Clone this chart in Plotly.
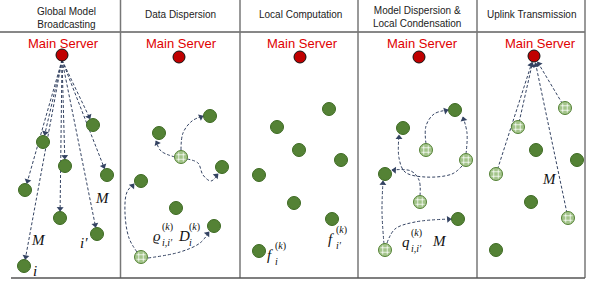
import math
import plotly.graph_objects as go

W, H = 596, 286

# ---------------- data ----------------
panel_titles = ["Global Model<br>Broadcasting", "Data Dispersion", "Local Computation",
                "Model Dispersion &<br>Local Condensation", "Uplink Transmission"]
title_x = [66, 180, 300, 417, 531]
title_y = [18, 14, 14, 17, 14]

server_x = [62, 179, 300, 419, 534]
server_y = [55, 57, 57, 57, 56]
server_label = "Main Server"
server_label_x = [63, 181, 302, 422, 540]
server_label_y = [43, 43, 43, 43, 43]

# Panel 1: global model broadcasting
p1_node_x = [93, 43, 65, 107, 25, 60, 97, 24]
p1_node_y = [125, 142, 166, 175, 190, 218, 234, 266]

# Panel 2: data dispersion
p2_node_x = [210, 159, 222, 141, 176, 214]
p2_node_y = [116, 133, 167, 181, 208, 226]
p2_hatch_x = [181, 141]
p2_hatch_y = [157, 257]
p2_curves = [
    [(181, 150), (183, 133), (192, 121), (203, 116)],
    [(175, 157), (161, 151), (156, 141)],
    [(187, 159), (198, 163), (203, 175), (211, 181), (218, 174)],
    [(137, 252), (129, 238), (125, 213), (127, 192), (134, 184)],
    [(148, 258), (180, 252), (200, 243), (209, 232)],
]

# Panel 3: local computation
p3_node_x = [329, 277, 299, 341, 259, 294, 332, 259]
p3_node_y = [109, 127, 150, 160, 175, 203, 219, 251]

# Panel 4: model dispersion & local condensation
p4_node_x = [455, 403, 385, 458]
p4_node_y = [110, 128, 174, 219]
p4_hatch_x = [426, 466, 420, 385]
p4_hatch_y = [150, 160, 202, 250]
p4_curves = [
    [(426, 144), (426, 126), (434, 114), (448, 110)],
    [(466, 154), (467, 133), (463, 117)],
    [(462, 166), (452, 174), (425, 177), (405, 172), (399, 158), (399, 135)],
    [(420, 196), (419, 180), (411, 171), (392, 170)],
    [(384, 244), (382, 212), (383, 181)],
    [(387, 243), (395, 229), (415, 222), (451, 219)],
]

# Panel 5: uplink transmission
p5_node_x = [536, 577, 531, 496]
p5_node_y = [150, 160, 202, 250]
p5_hatch_x = [565, 518, 496, 568]
p5_hatch_y = [108, 127, 174, 218]

# Math labels: (base text, x, y, superscript, subscript)
math_labels = [
    ("M", 102, 198, "", ""),
    ("M", 38, 240, "", ""),
    ("i\u2032", 84, 243, "", ""),
    ("i", 35, 271, "", ""),
    ("\u03f1", 157, 236, "(k)", "i,i\u2032"),
    ("D", 184, 236, "(k)", "i"),
    ("f", 270, 255, "(k)", "i"),
    ("f", 331, 239, "(k)", "i\u2032"),
    ("q", 406, 242, "(k)", "i,i\u2032"),
    ("M", 439, 241, "", ""),
    ("M", 549, 179, "", ""),
]

# ---------------- styles ----------------
GREEN = "#548235"
GREEN_EDGE = "#3d6a22"
HATCH = "#a3c48a"
RED = "#c00000"
ARROW = "#344362"
DASH = "3px,2px"
HEAD_SIZE = 6

fig = go.Figure()
annotations = []
head_x, head_y, head_angle = [], [], []


def dashed(xs, ys, spline=False):
    fig.add_trace(go.Scatter(
        x=xs, y=ys, mode="lines", hoverinfo="skip", showlegend=False,
        line=dict(color=ARROW, width=1, dash=DASH, shape="spline" if spline else "linear",
                  smoothing=1.0),
    ))


def head(tip, prev):
    dx, dy = tip[0] - prev[0], tip[1] - prev[1]
    d = math.hypot(dx, dy) or 1.0
    ux, uy = dx / d, dy / d
    # centre the triangle slightly behind the tip
    head_x.append(tip[0] - ux * HEAD_SIZE * 0.4)
    head_y.append(tip[1] - uy * HEAD_SIZE * 0.4)
    head_angle.append(math.degrees(math.atan2(ux, -uy)))


# Panel 1 straight arrows from the server to each node
for nx, ny in zip(p1_node_x, p1_node_y):
    sx, sy = server_x[0], server_y[0] + 5
    dx, dy = nx - sx, ny - sy
    d = math.hypot(dx, dy)
    tip = (nx - dx / d * 7, ny - dy / d * 7)
    dashed([sx, tip[0]], [sy, tip[1]])
    head(tip, (sx, sy))

# Panel 2 and 4 curved arrows
for curve in p2_curves + p4_curves:
    xs = [p[0] for p in curve]
    ys = [p[1] for p in curve]
    dashed(xs, ys, spline=True)
    head(curve[-1], curve[-2])

# Panel 5 straight uplink lines from hatched nodes to server
for hx, hy in zip(p5_hatch_x, p5_hatch_y):
    sx, sy = server_x[4], server_y[4]
    dx, dy = sx - hx, sy - hy
    d = math.hypot(dx, dy)
    tip = (sx - dx / d * 7, sy - dy / d * 7)
    dashed([hx, tip[0]], [hy, tip[1]])
    head(tip, (hx, hy))

# Nodes
all_node_x = p1_node_x + p2_node_x + p3_node_x + p4_node_x + p5_node_x
all_node_y = p1_node_y + p2_node_y + p3_node_y + p4_node_y + p5_node_y
fig.add_trace(go.Scatter(
    x=all_node_x, y=all_node_y, mode="markers", hoverinfo="skip", showlegend=False,
    marker=dict(size=13, color=GREEN, line=dict(color=GREEN_EDGE, width=1)),
))
all_hatch_x = p2_hatch_x + p4_hatch_x + p5_hatch_x
all_hatch_y = p2_hatch_y + p4_hatch_y + p5_hatch_y
fig.add_trace(go.Scatter(
    x=all_hatch_x, y=all_hatch_y, mode="markers", hoverinfo="skip", showlegend=False,
    marker=dict(size=13, color=HATCH, line=dict(color=GREEN, width=1)),
))
# hatch texture overlay
fig.add_trace(go.Scatter(
    x=all_hatch_x, y=all_hatch_y, mode="markers", hoverinfo="skip", showlegend=False,
    marker=dict(size=9, symbol="hash-open", color="rgba(255,255,255,0.75)",
                line=dict(color="rgba(255,255,255,0.75)", width=1)),
))
# Arrowheads
fig.add_trace(go.Scatter(
    x=head_x, y=head_y, mode="markers", hoverinfo="skip", showlegend=False,
    marker=dict(size=HEAD_SIZE, symbol="triangle-up", angle=head_angle, color=ARROW,
                line=dict(width=0)),
))
# Servers
fig.add_trace(go.Scatter(
    x=server_x, y=server_y, mode="markers", hoverinfo="skip", showlegend=False,
    marker=dict(size=12, color=RED, line=dict(color="#111111", width=1)),
))

# Titles
for t, x, y in zip(panel_titles, title_x, title_y):
    annotations.append(dict(x=x, y=y, xref="x", yref="y", text=t, showarrow=False,
                            font=dict(family="Liberation Sans, Arial", size=10, color="#222222"),
                            align="center", xanchor="center", yanchor="middle"))
# Server labels
for x, y in zip(server_label_x, server_label_y):
    annotations.append(dict(x=x, y=y, xref="x", yref="y", text=server_label, showarrow=False,
                            font=dict(family="Liberation Sans, Arial", size=13, color="#e00000"),
                            xanchor="center", yanchor="middle"))
# Math labels
SERIF = "Liberation Serif, DejaVu Serif, serif"
for base, x, y, sup, sub in math_labels:
    annotations.append(dict(x=x, y=y, xref="x", yref="y", text="<i>%s</i>" % base, showarrow=False,
                            font=dict(family=SERIF, size=15, color="#111111"),
                            xanchor="center", yanchor="middle"))
    if sup:
        annotations.append(dict(x=x + 3, y=y - 9, xref="x", yref="y",
                                text="(<i>k</i>)", showarrow=False,
                                font=dict(family=SERIF, size=10, color="#111111"),
                                xanchor="left", yanchor="middle"))
    if sub:
        annotations.append(dict(x=x + 3, y=y + 6, xref="x", yref="y", text="<i>%s</i>" % sub,
                                showarrow=False,
                                font=dict(family=SERIF, size=10, color="#111111"),
                                xanchor="left", yanchor="middle"))

# Frame lines
shapes = []
shapes.append(dict(type="line", x0=0, x1=585, y0=32, y1=32, xref="x", yref="y",
                   line=dict(color="#111111", width=1)))
for vx in [120.5, 240, 358, 477, 585]:
    shapes.append(dict(type="line", x0=vx, x1=vx, y0=0, y1=278, xref="x", yref="y",
                       line=dict(color="#777777", width=1.5)))
shapes.append(dict(type="line", x0=11, x1=585, y0=278, y1=278, xref="x", yref="y",
                   line=dict(color="#555555", width=1.5)))

fig.update_layout(
    width=W, height=H, margin=dict(l=0, r=0, t=0, b=0),
    paper_bgcolor="white", plot_bgcolor="white",
    xaxis=dict(range=[0, W], visible=False, fixedrange=True),
    yaxis=dict(range=[H, 0], visible=False, fixedrange=True),
    annotations=annotations, shapes=shapes, showlegend=False,
)

fig.write_html(
    "out.html",
    config={"displayModeBar": False},
    post_script="document.body.style.margin='0';document.body.style.overflow='hidden';",
)
